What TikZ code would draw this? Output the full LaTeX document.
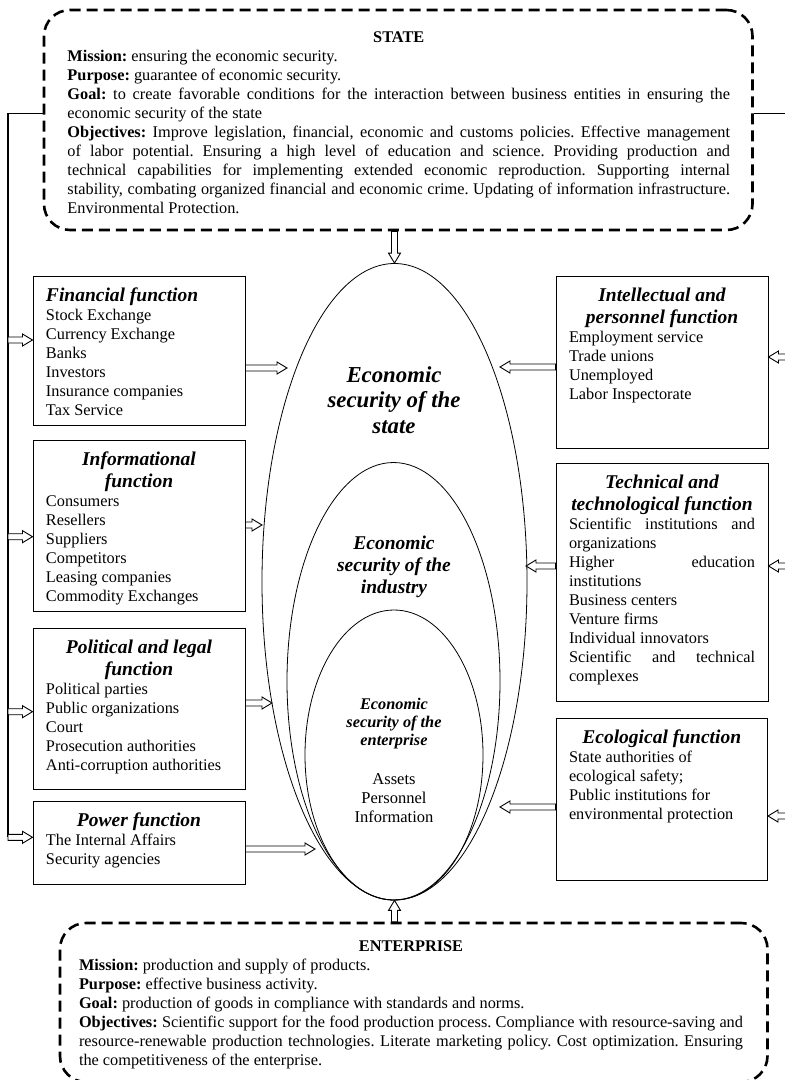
\documentclass[tikz,border=0pt]{standalone}
\usepackage{fontspec}
\setmainfont{Liberation Serif}
\usetikzlibrary{shapes.geometric,calc}
\frenchspacing

\newcommand\titlef{\fontsize{19.5}{22}\selectfont\bfseries\itshape}
\newcommand\itemf{\fontsize{16.3}{19}\selectfont}
\newcommand\jl[1]{\makebox[\linewidth][s]{#1}}
\newcommand\fst{\rule{0pt}{14pt}}
\newcommand\inbox[6]{\hspace*{#1}\begin{minipage}[t][#4][t]{#2}\frenchspacing\vspace*{#5}#6\end{minipage}\hspace*{#3}}

\begin{document}
\begin{tikzpicture}[x=1pt,y=-1pt,
  fbox/.style={draw, line width=1pt, rectangle, inner sep=0pt},
  dbox/.style={draw, line width=2.6pt, dash pattern=on 11pt off 6pt, rounded corners=26pt, rectangle, inner sep=0pt},
  ell/.style={draw, ellipse, line width=0.8pt, inner sep=0pt},
  conn/.style={draw, line width=1.1pt},
  barrow/.style={draw, fill=white, line width=0.9pt, line join=miter,
    to path={
      ($(\tikztotarget)!10pt!(\tikztostart)$) coordinate (babase)
      ($(\tikztostart)!3pt!90:(\tikztotarget)$)
      -- ($(babase)!3pt!90:(\tikztotarget)$)
      -- ($(babase)!6pt!90:(\tikztotarget)$)
      -- (\tikztotarget)
      -- ($(babase)!6pt!-90:(\tikztotarget)$)
      -- ($(babase)!3pt!-90:(\tikztotarget)$)
      -- ($(\tikztostart)!3pt!-90:(\tikztotarget)$)
      -- cycle}}
]
\useasboundingbox (0,0) rectangle (785,1080);
\fill[white] (0,0) rectangle (785,1080);

% ellipses
\node[ell, minimum width=265, minimum height=636.5] (outer) at (394.5,581.75) {};
\node[ell, minimum width=213, minimum height=437.5] (middle) at (393.5,681.25) {};
\node[ell, minimum width=178, minimum height=290] (inner) at (394,755) {};

\node[anchor=base] (tState) at (394,382.4) {\fontsize{22.8}{25.3}\selectfont\bfseries\itshape\begin{tabular}[t]{@{}c@{}}Economic\\security of the\\state\end{tabular}};
\node[anchor=base] (tInd) at (394,549.5) {\fontsize{19.5}{22}\selectfont\bfseries\itshape\begin{tabular}[t]{@{}c@{}}Economic\\security of the\\industry\end{tabular}};
\node[anchor=base] (tEnt) at (394,709) {\fontsize{16.3}{18.3}\selectfont\bfseries\itshape\begin{tabular}[t]{@{}c@{}}Economic\\security of the\\enterprise\end{tabular}};
\node[anchor=base] (tAss) at (394,784) {\fontsize{16.5}{19}\selectfont\begin{tabular}[t]{@{}c@{}}Assets\\Personnel\\Information\end{tabular}};

% state box
\node[dbox] (state) at (398.25,120) {\inbox{23.5pt}{662.5pt}{22.5pt}{220pt}{18.7pt}{\itemf{\bfseries\centering\fst STATE\par}\raggedright
\textbf{Mission:} ensuring the economic security.\\
\textbf{Purpose:} guarantee of economic security.\\
\jl{\textbf{Goal:} to create favorable conditions for the interaction between business entities in ensuring the}\\
economic security of the state\\
\jl{\textbf{Objectives:} Improve legislation, financial, economic and customs policies. Effective management}\\
\jl{of labor potential. Ensuring a high level of education and science. Providing production and}\\
\jl{technical capabilities for implementing extended economic reproduction. Supporting internal}\\
\jl{stability, combating organized financial and economic crime. Updating of information infrastructure.}\\
Environmental Protection.}};

% enterprise box
\node[dbox] (ent) at (413.75,1002.5) {\inbox{19pt}{664pt}{24.5pt}{159pt}{14pt}{\itemf{\bfseries\centering\fst ENTERPRISE\par}\raggedright
\textbf{Mission:} production and supply of products.\\
\textbf{Purpose:} effective business activity.\\
\textbf{Goal:} production of goods in compliance with standards and norms.\\
\jl{\textbf{Objectives:} Scientific support for the food production process. Compliance with resource-saving and}\\
\jl{resource-renewable production technologies. Literate marketing policy. Cost optimization. Ensuring}\\
the competitiveness of the enterprise.}};

% left boxes
\node[fbox] (fin) at (139,350.5) {\inbox{13pt}{186pt}{13pt}{149pt}{11pt}{{\titlef\fst Financial function\par}\vspace{0.5pt}\itemf\raggedright Stock Exchange\\Currency Exchange\\Banks\\Investors\\Insurance companies\\Tax Service}};
\node[fbox] (inf) at (139,525.5) {\inbox{13pt}{186pt}{13pt}{171pt}{11pt}{{\titlef\centering\fst Informational\\function\par}\vspace{0.5pt}\itemf\raggedright Consumers\\Resellers\\Suppliers\\Competitors\\Leasing companies\\Commodity Exchanges}};
\node[fbox] (pol) at (139,708.5) {\inbox{13pt}{186pt}{13pt}{161pt}{11pt}{{\titlef\centering\fst Political and legal\\function\par}\vspace{0.5pt}\itemf\raggedright Political parties\\Public organizations\\Court\\Prosecution authorities\\Anti-corruption authorities}};
\node[fbox] (pow) at (139,842.5) {\inbox{13pt}{186pt}{13pt}{83pt}{11pt}{{\titlef\centering\fst Power function\par}\vspace{0.5pt}\itemf\raggedright The Internal Affairs\\Security agencies}};

% right boxes
\node[fbox] (int) at (662,362) {\inbox{13pt}{186pt}{13pt}{172pt}{11pt}{{\titlef\centering\fst Intellectual and\\personnel function\par}\vspace{0.5pt}\itemf\raggedright Employment service\\Trade unions\\Unemployed\\Labor Inspectorate}};
\node[fbox] (tec) at (662,582) {\inbox{13pt}{186pt}{13pt}{238pt}{11pt}{{\titlef\centering\fst Technical and\\technological function\par}\vspace{0.5pt}\itemf\raggedright\jl{Scientific institutions and}\\organizations\\\jl{Higher education}\\institutions\\Business centers\\Venture firms\\Individual innovators\\\jl{Scientific and technical}\\complexes}};
\node[fbox] (eco) at (661.75,799) {\inbox{13pt}{185.5pt}{13pt}{162pt}{11pt}{{\titlef\centering\fst Ecological function\par}\vspace{0.5pt}\itemf\raggedright State authorities of\\ecological safety;\\Public institutions for\\environmental protection}};

% connector lines
\coordinate (L0) at (8,113.3);
\coordinate (L1) at (8,837.3);
\coordinate (R0) at (787,113.3);
\coordinate (R1) at (787,816);
\draw[conn] (state.west |- L0) -- (L0) -- (L1);
\draw[conn] (state.east |- R0) -- (R0) -- (R1);

% arrow coordinates
\coordinate (finIn) at (8,340);
\coordinate (infIn) at (8,536.7);
\coordinate (polIn) at (8,711.7);
\coordinate (intIn) at (787,357);
\coordinate (tecIn) at (787,566);
\coordinate (finInT) at (fin.west |- finIn);
\coordinate (infInT) at (inf.west |- infIn);
\coordinate (polInT) at (pol.west |- polIn);
\coordinate (powInT) at (pow.west |- L1);
\coordinate (intInT) at (int.east |- intIn);
\coordinate (tecInT) at (tec.east |- tecIn);
\coordinate (ecoInT) at (eco.east |- R1);

\coordinate (finOut) at (287,368);
\coordinate (infOut) at (262,525);
\coordinate (polOut) at (272,703);
\coordinate (powOut) at (315,849);
\coordinate (intOut) at (500,367);
\coordinate (tecOut) at (526,566);
\coordinate (ecoOut) at (500,807);
\coordinate (finOutS) at (fin.east |- finOut);
\coordinate (infOutS) at (inf.east |- infOut);
\coordinate (polOutS) at (pol.east |- polOut);
\coordinate (powOutS) at (pow.east |- powOut);
\coordinate (intOutS) at (int.west |- intOut);
\coordinate (tecOutS) at (tec.west |- tecOut);
\coordinate (ecoOutS) at (eco.west |- ecoOut);

\coordinate (topS) at (state.south -| outer.north);
\coordinate (topT) at (outer.north);
\coordinate (botS) at (ent.north -| outer.south);
\coordinate (botT) at (outer.south);

% arrows
\draw[barrow] (finIn) to (finInT);
\draw[barrow] (infIn) to (infInT);
\draw[barrow] (polIn) to (polInT);
\draw[barrow] (L1) to (powInT);
\draw[barrow] (intIn) to (intInT);
\draw[barrow] (tecIn) to (tecInT);
\draw[barrow] (R1) to (ecoInT);

\draw[barrow] (finOutS) to (finOut);
\draw[barrow] (infOutS) to (infOut);
\draw[barrow] (polOutS) to (polOut);
\draw[barrow] (powOutS) to (powOut);
\draw[barrow] (intOutS) to (intOut);
\draw[barrow] (tecOutS) to (tecOut);
\draw[barrow] (ecoOutS) to (ecoOut);

\draw[barrow] (topS) to (topT);
\draw[barrow] (botS) to (botT);
\end{tikzpicture}
\end{document}
